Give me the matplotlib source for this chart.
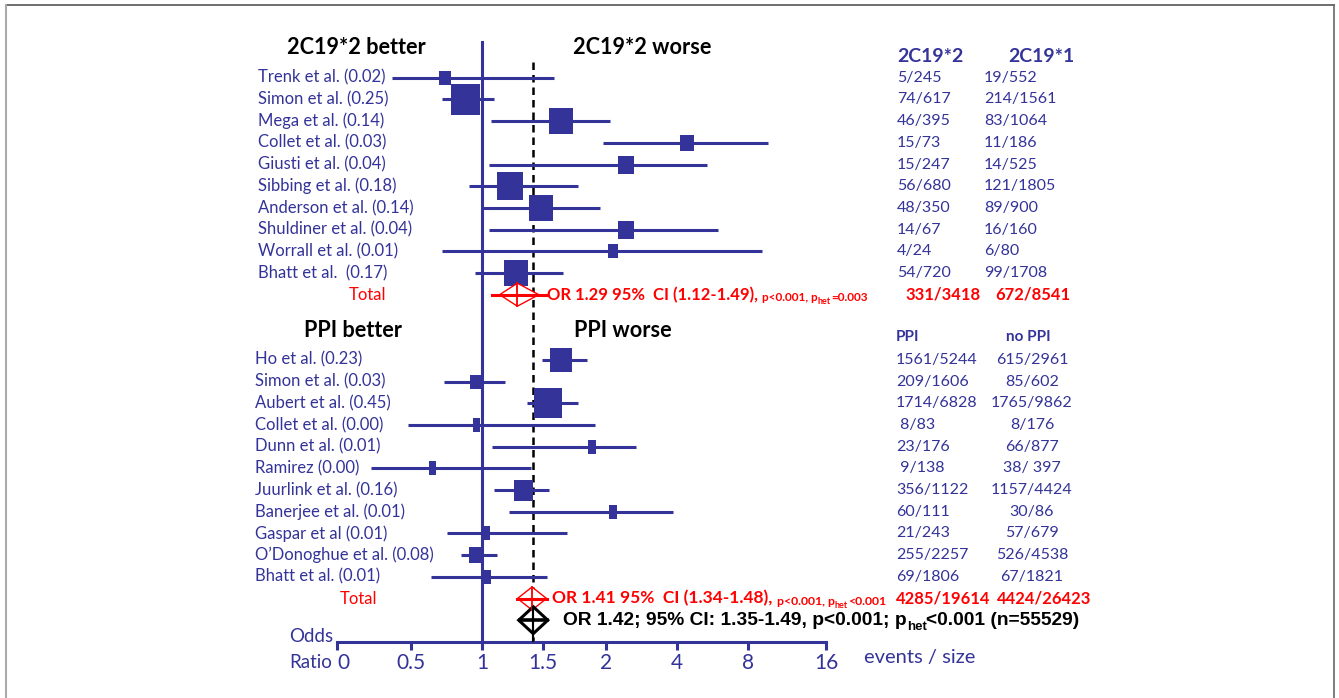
import numpy as np
import matplotlib
matplotlib.use("Agg")
import matplotlib.pyplot as plt
import matplotlib.transforms as mtransforms
from matplotlib.patches import Polygon
from matplotlib.lines import Line2D

BLUE = "#333399"
RED = "#ff0000"
LABEL_FONT = "Lato"

# odds ratio axis, the ticks are spaced evenly on screen, not on a real scale
tick_vals = [0, 0.5, 1, 1.5, 2, 4, 8, 16]
tick_labels = ["0", "0.5", "1", "1.5", "2", "4", "8", "16"]

# CYP2C19*2 carriers vs *1
cyp_studies = ["Trenk et al. (0.02)", "Simon et al. (0.25)", "Mega et al. (0.14)",
               "Collet et al. (0.03)", "Giusti et al. (0.04)", "Sibbing et al. (0.18)",
               "Anderson et al. (0.14)", "Shuldiner et al. (0.04)", "Worrall et al. (0.01)",
               "Bhatt et al.  (0.17)"]
cyp_weight = [0.02, 0.25, 0.14, 0.03, 0.04, 0.18, 0.14, 0.04, 0.01, 0.17]
cyp_or = [0.74, 0.88, 1.64, 4.57, 2.57, 1.23, 1.48, 2.57, 2.20, 1.28]
cyp_lo = [0.37, 0.72, 1.07, 1.98, 1.06, 0.91, 1.01, 1.06, 0.72, 0.95]
cyp_hi = [1.59, 1.10, 2.10, 10.05, 5.71, 1.78, 1.95, 6.31, 9.44, 1.66]
cyp_star2 = ["5/245", "74/617", "46/395", "15/73", "15/247", "56/680", "48/350",
             "14/67", "4/24", "54/720"]
cyp_star1 = ["19/552", "214/1561", "83/1064", "11/186", "14/525", "121/1805", "89/900",
             "16/160", "6/80", "99/1708"]
cyp_total = [1.29, 1.12, 1.49]
cyp_total_counts = ["331/3418", "672/8541"]

# PPI vs no PPI
ppi_studies = ["Ho et al. (0.23)", "Simon et al. (0.03)", "Aubert et al. (0.45)",
               "Collet et al. (0.00)", "Dunn et al. (0.01)", "Ramirez (0.00)",
               "Juurlink et al. (0.16)", "Banerjee et al. (0.01)", "Gaspar et al (0.01)",
               "O\u2019Donoghue et al. (0.08)", "Bhatt et al. (0.01)"]
ppi_weight = [0.23, 0.03, 0.45, 0.00, 0.01, 0.00, 0.16, 0.01, 0.01, 0.08, 0.01]
ppi_or = [1.64, 0.96, 1.54, 0.96, 1.89, 0.65, 1.34, 2.20, 1.03, 0.96, 1.04]
ppi_lo = [1.49, 0.73, 1.37, 0.48, 1.08, 0.23, 1.10, 1.22, 0.75, 0.85, 0.64]
ppi_hi = [1.85, 1.19, 1.78, 1.91, 2.85, 1.40, 1.55, 3.89, 1.69, 1.12, 1.53]
ppi_yes = ["1561/5244", "209/1606", "1714/6828", " 8/83", "23/176", " 9/138", "356/1122",
           "60/111", "21/243", "255/2257", "69/1806"]
ppi_no = ["615/2961", "85/602", "1765/9862", "8/176", "66/877", "38/ 397", "1157/4424",
          "30/86", "57/679", "526/4538", "67/1821"]
ppi_total = [1.41, 1.34, 1.48]
ppi_total_counts = ["4285/19614", "4424/26423"]

overall = [1.42, 1.35, 1.49]
overall_n = 55529

# ---- layout (pixels of a 1339x698 canvas) ----
W, H = 1339, 698
tick_px = [337, 411, 482, 543, 606, 677, 748, 826]
axis_y = 642
row_h = 21.7
first_row_y = 77.7


def fx(px):
    return px / W


def forward(v):
    return np.interp(v, tick_vals, tick_px)


def inverse(p):
    return np.interp(p, tick_px, tick_vals)


fig = plt.figure(figsize=(W / 100, H / 100), dpi=100)
ax = fig.add_axes([fx(tick_px[0]), (H - axis_y) / H, fx(tick_px[-1] - tick_px[0]), axis_y / H])
ax.set_xscale("function", functions=(forward, inverse))
ax.set_xlim(0, 16)
ax.set_ylim((axis_y - first_row_y) / row_h, -first_row_y / row_h)
ax.patch.set_alpha(0)
for s in ["top", "left", "right"]:
    ax.spines[s].set_visible(False)
ax.spines["bottom"].set_color(BLUE)
ax.spines["bottom"].set_linewidth(2.2)
ax.set_yticks([])
ax.set_xticks(tick_vals)
ax.set_xticklabels(tick_labels, family=LABEL_FONT, fontsize=15, color=BLUE)
ax.xaxis.set_minor_locator(matplotlib.ticker.NullLocator())
ax.tick_params(axis="x", direction="out", length=6, width=2.2, color=BLUE, pad=2)
# the "0" label sits a bit right of its tick in the original
lab0 = ax.get_xticklabels()[0]
lab0.set_transform(lab0.get_transform() + mtransforms.ScaledTranslation(6 / 100, 0, fig.dpi_scale_trans))

y_bottom = ax.get_ylim()[0]
trow = mtransforms.blended_transform_factory(fig.transFigure, ax.transData)

cyp_rows = np.arange(len(cyp_studies))
cyp_total_row = len(cyp_studies)
ppi_rows = np.arange(len(ppi_studies)) + cyp_total_row + 3
ppi_total_row = ppi_rows[-1] + 1
overall_row = ppi_total_row + 1

# reference lines
ax.plot([1, 1], [(42 - first_row_y) / row_h, y_bottom], color=BLUE, lw=2.2, zorder=1)
ax.plot([overall[0], overall[0]], [(62 - first_row_y) / row_h, y_bottom], color="black",
        lw=1.8, ls=(0, (3, 2)), zorder=1)


def draw_study(y, o, lo, hi, w, base, slope):
    ax.plot([lo, hi], [y, y], color=BLUE, lw=2.2, solid_capstyle="butt", zorder=2)
    bw = max(base + slope * np.sqrt(w), 7)
    bh = max(bw + 2, 14)
    verts = [(-bw / 2, -bh / 2), (bw / 2, -bh / 2), (bw / 2, bh / 2), (-bw / 2, bh / 2),
             (-bw / 2, -bh / 2)]
    ax.plot([o], [y], marker=verts, ms=max(bw, bh) * 0.72, color=BLUE, mew=0, ls="none",
            zorder=3)


for y, o, lo, hi, w in zip(cyp_rows, cyp_or, cyp_lo, cyp_hi, cyp_weight):
    draw_study(y, o, lo, hi, w, 6, 46)
for y, o, lo, hi, w in zip(ppi_rows, ppi_or, ppi_lo, ppi_hi, ppi_weight):
    draw_study(y, o, lo, hi, w, 5, 35)


def draw_diamond(y, est, color, lw, half_h, cross_lw, d_pad, l_pad, v_to_axis=False):
    # pads are in screen pixels, moved through the axis mapping
    o, lo, hi = est
    dlo, dhi = inverse(forward(lo) - d_pad), inverse(forward(hi) + d_pad)
    llo, lhi = inverse(forward(lo) - l_pad), inverse(forward(hi) + l_pad)
    d = Polygon([(dlo, y), (o, y - half_h), (dhi, y), (o, y + half_h)], closed=True,
                facecolor="white", edgecolor=color, lw=lw, zorder=4)
    ax.add_patch(d)
    ax.plot([llo, lhi], [y, y], color=color, lw=cross_lw, zorder=5)
    ybot = y_bottom if v_to_axis else y + half_h
    ax.plot([o, o], [y - half_h, ybot], color=color, lw=cross_lw * 0.6, zorder=5)


draw_diamond(cyp_total_row, cyp_total, RED, 1.0, 0.53, 2.2, -3, 5)
draw_diamond(ppi_total_row, ppi_total, RED, 1.0, 0.53, 2.2, 6, 6)
draw_diamond(overall_row, overall, "black", 2.2, 0.62, 2.6, 6, 5, v_to_axis=True)


def put(x_px, row, s, **kw):
    kw.setdefault("family", LABEL_FONT)
    kw.setdefault("va", "center")
    return ax.text(fx(x_px), row, s, transform=trow, **kw)


def rich(x_px, row, parts, color, family, weight="bold"):
    prev = None
    for s, size, shift in parts:
        if prev is None:
            prev = put(x_px, row, s, color=color, family=family, fontsize=size,
                       fontweight=weight)
        else:
            prev = ax.annotate(s, xy=(1, 0), xycoords=prev, xytext=(0, shift),
                               textcoords="offset points", va="bottom", ha="left",
                               color=color, family=family, fontsize=size, fontweight=weight)


# section headers
head_row_top = (48 - first_row_y) / row_h
head_row_ppi = (330 - first_row_y) / row_h
put(287, head_row_top, "2C19*2 better", fontsize=15.6, fontweight="bold", color="black")
put(573, head_row_top, "2C19*2 worse", fontsize=15.6, fontweight="bold", color="black")
put(304, head_row_ppi, "PPI better", fontsize=15.6, fontweight="bold", color="black")
put(574, head_row_ppi, "PPI worse", fontsize=15.6, fontweight="bold", color="black")

col_row_top = (57 - first_row_y) / row_h
col_row_ppi = (337 - first_row_y) / row_h
put(897, col_row_top, "2C19*2", fontsize=14, fontweight="bold", color=BLUE)
put(1008, col_row_top, "2C19*1", fontsize=14, fontweight="bold", color=BLUE)
put(896, col_row_ppi, "PPI", fontsize=11, fontweight="bold", color=BLUE)
put(1006, col_row_ppi, "no PPI", fontsize=11, fontweight="bold", color=BLUE)

# study labels and counts
for y, name, a, b in zip(cyp_rows, cyp_studies, cyp_star2, cyp_star1):
    put(258, y, name, fontsize=12, color=BLUE)
    put(897, y, a, fontsize=11.5, color=BLUE)
    put(984, y, b, fontsize=11.5, color=BLUE)
for y, name, a, b in zip(ppi_rows, ppi_studies, ppi_yes, ppi_no):
    put(255, y, name, fontsize=12, color=BLUE)
    put(896, y, a, fontsize=11.5, color=BLUE)
    put(1032, y, b, fontsize=11.5, color=BLUE, ha="center")

put(349, cyp_total_row, "Total", fontsize=12, color=RED)
put(340, ppi_total_row, "Total", fontsize=12, color=RED)
put(905, cyp_total_row, cyp_total_counts[0], fontsize=12, fontweight="bold", color=RED)
put(995, cyp_total_row, cyp_total_counts[1], fontsize=12, fontweight="bold", color=RED)
put(896, ppi_total_row, ppi_total_counts[0], fontsize=12, fontweight="bold", color=RED)
put(997, ppi_total_row, ppi_total_counts[1], fontsize=12, fontweight="bold", color=RED)

rich(547, cyp_total_row,
     [("OR %.2f 95%%  CI (%.2f-%.2f), " % tuple(cyp_total), 12, 0),
      ("p<0.001, p", 8.5, 0), ("het", 6.5, -2.5), ("=0.003", 8.5, 2.5)],
     RED, LABEL_FONT)
rich(552, ppi_total_row,
     [("OR %.2f 95%%  CI (%.2f-%.2f), " % tuple(ppi_total), 12.5, 0),
      ("p<0.001, p", 8.8, 0), ("het", 6.5, -2.5), ("<0.001", 8.8, 2.5)],
     RED, LABEL_FONT)
rich(563, overall_row,
     [("OR %.2f; 95%% CI: %.2f-%.2f, p<0.001; p" % tuple(overall), 13.8, 0),
      ("het", 9.5, -3), ("<0.001 (n=%d)" % overall_n, 13.8, 3)],
     "black", "Liberation Sans")

# axis captions
fig.text(fx(289), 1 - 637 / H, "Odds", family=LABEL_FONT, fontsize=13.5, color=BLUE, va="center")
fig.text(fx(289), 1 - 662 / H, "Ratio", family=LABEL_FONT, fontsize=13.5, color=BLUE, va="center")
fig.text(fx(864), 1 - 657 / H, "events / size", family=LABEL_FONT, fontsize=14.5, color=BLUE,
         va="center")

# thin frame around the picture
fig.add_artist(Line2D([fx(6), fx(1334)], [1 - 5 / H, 1 - 5 / H], color="#555555", lw=1.2))
fig.add_artist(Line2D([fx(6), fx(6)], [0, 1 - 5 / H], color="#aaaaaa", lw=1.5))
fig.add_artist(Line2D([fx(1334), fx(1334)], [0, 1 - 5 / H], color="#666666", lw=1.2))

fig.savefig("out.png", dpi=100)
